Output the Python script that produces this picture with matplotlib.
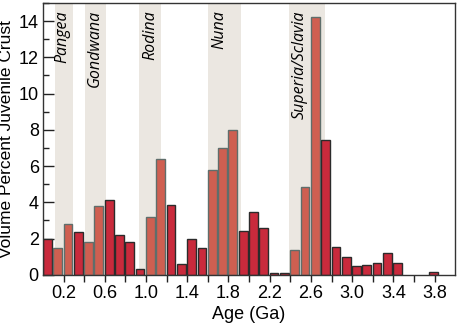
import matplotlib
matplotlib.use("Agg")
import matplotlib.pyplot as plt
from matplotlib.ticker import MultipleLocator, FixedLocator

# bin start ages (Ga) and volume percent of juvenile crust
age_bins = [0.0, 0.1, 0.2, 0.3, 0.4, 0.5, 0.6, 0.7, 0.8, 0.9,
            1.0, 1.1, 1.2, 1.3, 1.4, 1.5, 1.6, 1.7, 1.8, 1.9,
            2.0, 2.1, 2.2, 2.3, 2.4, 2.5, 2.6, 2.7, 2.8, 2.9,
            3.0, 3.1, 3.2, 3.3, 3.4, 3.75]
volume = [2.0, 1.5, 2.8, 2.35, 1.8, 3.8, 4.15, 2.2, 1.8, 0.35,
          3.2, 6.4, 3.85, 0.6, 2.0, 1.5, 5.8, 7.0, 8.0, 2.4,
          3.45, 2.6, 0.12, 0.12, 1.35, 4.85, 14.25, 7.45, 1.55, 1.0,
          0.47, 0.57, 0.65, 1.22, 0.63, 0.15]
# bins that fall inside a supercontinent window
band_bins = [0.1, 0.2, 0.4, 0.5, 1.0, 1.1, 1.6, 1.7, 1.8, 2.4, 2.5, 2.6]

# supercontinents
sc_names = ["Pangea", "Gondwana", "Rodina", "Nuna", "Superia/Sclavia"]
sc_start = [0.12, 0.41, 0.93, 1.60, 2.39]
sc_end = [0.29, 0.615, 1.15, 1.92, 2.74]
sc_label_x = [0.19, 0.50, 1.04, 1.71, 2.49]

plt.rcParams['font.family'] = ['Liberation Sans', 'DejaVu Sans']

fig = plt.figure(figsize=(4.57, 3.28), dpi=100)
ax = fig.add_axes([0.094, 0.162, 0.902, 0.829])

#shaded windows
for s, e in zip(sc_start, sc_end):
    ax.axvspan(s, e, color='#ebe7e1', lw=0, zorder=0)

#bars
for a, v in zip(age_bins, volume):
    if a in band_bins:
        fc, ec = '#cf5f51', '#5f6e6b'
    else:
        fc, ec = '#c92a3c', '#2b2b2b'
    ax.bar(a, v, width=0.085, align='edge', color=fc, edgecolor=ec,
           linewidth=1.0, zorder=2)

#labels for windows
for name, x in zip(sc_names, sc_label_x):
    ax.text(x, 14.6, name, rotation=90, ha='center', va='top',
            fontsize=11.5, style='italic', family='Open Sans', zorder=3)

ax.set_xlim(0, 4.0)
ax.set_ylim(0, 15)

ax.xaxis.set_major_locator(FixedLocator([0.2, 0.6, 1.0, 1.4, 1.8, 2.2, 2.6, 3.0, 3.4, 3.8]))
ax.xaxis.set_minor_locator(FixedLocator([0.4, 0.8, 1.2, 1.6, 2.0, 2.4, 2.8, 3.2, 3.6]))
ax.set_xticklabels(['0.2', '0.6', '1.0', '1.4', '1.8', '2.2', '2.6', '3.0', '3.4', '3.8'])
ax.tick_params(axis='x', which='both', direction='out', length=5, width=1,
               color='#222222', labelsize=13, pad=2)

ax.yaxis.set_major_locator(MultipleLocator(2))
ax.yaxis.set_minor_locator(MultipleLocator(1))
ax.tick_params(axis='y', which='major', direction='in', length=8, width=1,
               color='#222222', labelsize=13, pad=3)
ax.tick_params(axis='y', which='minor', direction='in', length=4, width=1,
               color='#222222')

for sp in ax.spines.values():
    sp.set_color('#333333')
    sp.set_linewidth(1.0)

ax.set_xlabel('Age (Ga)', fontsize=13, labelpad=3)
ax.set_ylabel('Volume Percent Juvenile Crust', fontsize=12.5, labelpad=3)

fig.savefig('out.png', dpi=100)
